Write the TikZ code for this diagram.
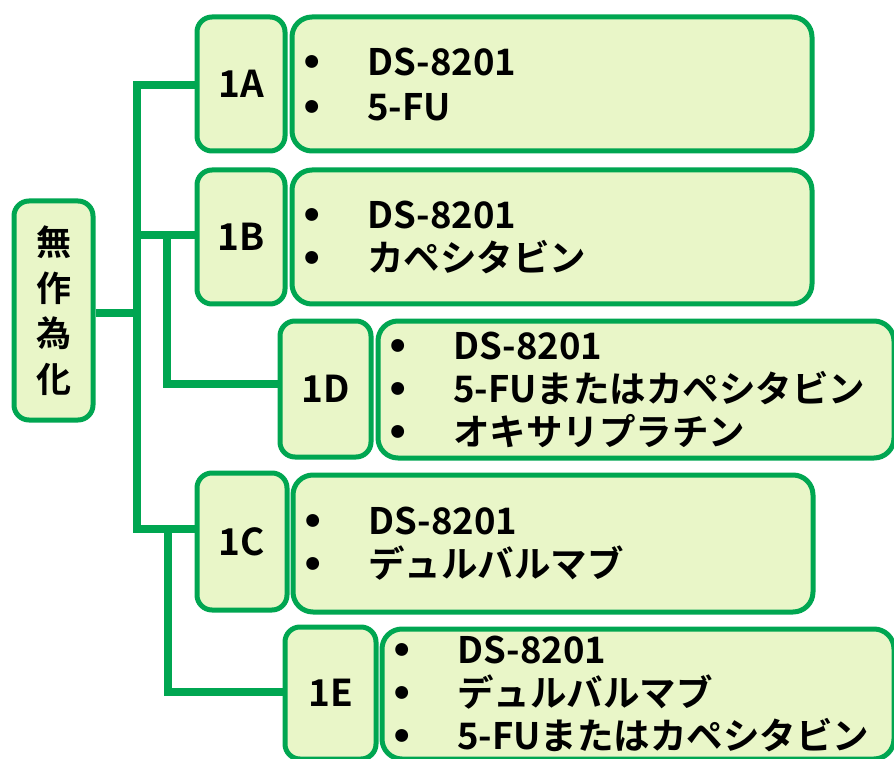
\documentclass[tikz,border=0pt]{standalone}
\usepackage{fontspec}
\setmainfont{Noto Sans CJK JP}[BoldFont={Noto Sans CJK JP Bold}]
\newfontfamily\dvf{DejaVu Sans}
\newcommand\bl{\makebox[20pt][c]{\dvf •}\hspace{45pt}}
\definecolor{grn}{RGB}{0,166,81}
\definecolor{pale}{RGB}{233,246,200}
\begin{document}
\begin{tikzpicture}[x=1pt,y=-1pt,
  box/.style={draw=grn,fill=pale,line width=5pt,rounded corners=15pt,anchor=north west,inner sep=0pt},
  lab/.style={box,font=\fontsize{37}{43}\selectfont\bfseries,align=center},
  cont/.style={box,rounded corners=20pt,font=\fontsize{36.5}{43}\selectfont\bfseries,align=left,inner xsep=10pt},
  conn/.style={draw=grn,line width=8pt,line join=miter}]
\useasboundingbox (0,0) rectangle (894,759);
% root
\node[box,minimum width=79pt,minimum height=219pt,align=center,
  font=\fontsize{35}{45.5}\selectfont\bfseries] (root) at (11.5,198.5) {無\\作\\為\\化};
% 1A
\node[lab,minimum width=88pt,minimum height=134pt] (1A) at (194.5,14.5) {1A};
\node[cont,minimum height=134pt,text width=500pt,font=\fontsize{36.5}{45}\selectfont\bfseries] (cA) at (289.5,14.5) {\bl DS-8201\\\bl 5-FU};
% 1B
\node[lab,minimum width=88pt,minimum height=134pt] (1B) at (194.5,167.5) {1B};
\node[cont,minimum height=134pt,text width=500pt] (cB) at (289.5,167.5) {\bl DS-8201\\\bl カペシタビン};
% 1D
\node[lab,minimum width=91pt,minimum height=136pt] (1D) at (277.5,318.5) {1D};
\node[cont,minimum height=137pt,text width=496pt] (cD) at (375.5,318.5) {\bl DS-8201\\\bl 5-FUまたはカペシタビン\\\bl オキサリプラチン};
% 1C
\node[lab,minimum width=90pt,minimum height=137pt] (1C) at (194.5,470.5) {1C};
\node[cont,minimum height=137pt,text width=500pt] (cC) at (290.5,472.5) {\bl DS-8201\\\bl デュルバルマブ};
% 1E
\node[lab,minimum width=91pt,minimum height=132pt] (1E) at (282.5,624.5) {1E};
\node[cont,minimum height=130pt,text width=492pt] (cE) at (379.5,626.5) {\bl DS-8201\\\bl デュルバルマブ\\\bl 5-FUまたはカペシタビン};
% connectors
\coordinate (t0) at (137,313);
\coordinate (t1) at (137,85);
\coordinate (t2) at (137,529);
\coordinate (t3) at (137,235);
\coordinate (s1) at (167,235);
\coordinate (s2) at (167,384);
\coordinate (u1) at (168,529);
\coordinate (u2) at (168,692);
\draw[conn] (root.east |- t0) -- (t0);
\draw[conn] (1A.west |- t1) -- (t1) -- (t2) -- (1C.west |- t2);
\draw[conn] (t3) -- (1B.west |- t3);
\draw[conn] (s1) -- (s2) -- (1D.west |- s2);
\draw[conn] (u1) -- (u2) -- (1E.west |- u2);
\end{tikzpicture}
\end{document}
